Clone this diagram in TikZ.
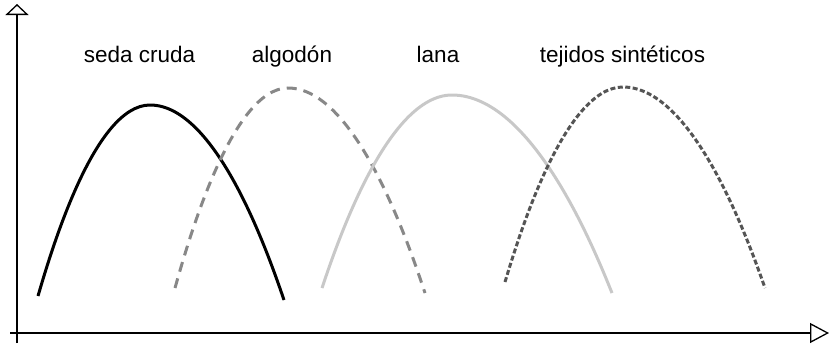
\documentclass[tikz,border=0pt]{standalone}
\usepackage{fontspec}
\setmainfont{Liberation Sans}
\usetikzlibrary{arrows.meta}

\definecolor{algodongray}{HTML}{888888}
\definecolor{lanagray}{HTML}{C8C8C8}
\definecolor{tejidogray}{HTML}{555555}

\tikzset{
  yaxis/.style={line width=1.3pt, -{Triangle[open,length=11pt,width=23pt,fill=white]}},
  xaxis/.style={line width=1.3pt, -{Triangle[open,length=19pt,width=20pt,fill=white]}},
  fibre/.style={line width=3pt},
  fibrelabel/.style={font=\fontsize{22.5}{26}\selectfont, anchor=base, inner sep=0pt},
}

\begin{document}
\begin{tikzpicture}[x=1pt,y=-1pt]
\useasboundingbox (0,0) rectangle (830,343);
%----axes----------------------------------------
\coordinate (origin) at (17,343);
\coordinate (ytip) at (17,4);
\coordinate (xstart) at (10,333);
\coordinate (xtip) at (829,333);
\draw[yaxis] (origin) -- (ytip);
\draw[xaxis] (xstart) -- (xtip);
%----curves--------------------------------------
\draw[fibre, black] (38,296) parabola bend (150,105) (284,300);
\draw[fibre, algodongray, dash pattern=on 10pt off 7pt] (175,288) parabola bend (288,88) (425,293);
\draw[fibre, lanagray] (322,288) parabola bend (452,95) (612,293);
\draw[fibre, tejidogray, dash pattern=on 5pt off 2.5pt] (505,282) parabola bend (623,87) (765,288);
%----text----------------------------------------
\node[fibrelabel] (seda) at (139.5,62) {seda cruda};
\node[fibrelabel] (algodon) at (292,62) {algodón};
\node[fibrelabel] (lana) at (438,62) {lana};
\node[fibrelabel] (tejidos) at (622.5,62) {tejidos sintéticos};
\end{tikzpicture}
\end{document}
